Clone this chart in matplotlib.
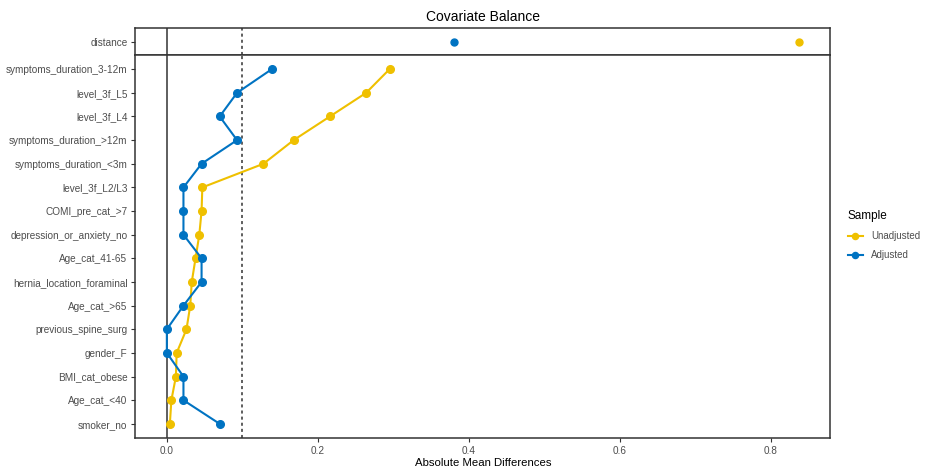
import matplotlib.pyplot as plt
import numpy as np

plt.rcParams["font.family"] = ["Liberation Sans", "DejaVu Sans"]

# covariates, top to bottom
covariates = [
    "symptoms_duration_3-12m",
    "level_3f_L5",
    "level_3f_L4",
    "symptoms_duration_>12m",
    "symptoms_duration_<3m",
    "level_3f_L2/L3",
    "COMI_pre_cat_>7",
    "depression_or_anxiety_no",
    "Age_cat_41-65",
    "hernia_location_foraminal",
    "Age_cat_>65",
    "previous_spine_surg",
    "gender_F",
    "BMI_cat_obese",
    "Age_cat_<40",
    "smoker_no",
]
unadjusted = [0.295, 0.264, 0.216, 0.168, 0.128, 0.047, 0.046, 0.043,
              0.038, 0.033, 0.031, 0.026, 0.013, 0.012, 0.006, 0.004]
adjusted = [0.139, 0.093, 0.070, 0.093, 0.046, 0.022, 0.022, 0.022,
            0.046, 0.046, 0.022, 0.0, 0.0, 0.022, 0.022, 0.070]

distance_unadj = 0.837
distance_adj = 0.381

threshold = 0.1
col_unadj = "#EFC000"
col_adj = "#0073C2"
border = "#333333"
txt = "#4D4D4D"

fig = plt.figure(figsize=(9.32, 4.70), dpi=100)
fig.set_facecolor("w")

left, right = 0.145, 0.891
bottom, top = 0.068, 0.940
mid = 0.883
ax_top = fig.add_axes([left, mid, right - left, top - mid])
ax = fig.add_axes([left, bottom, right - left, mid - bottom], sharex=ax_top)

n = len(covariates)
ypos = np.arange(n)[::-1] + 1

for a in (ax_top, ax):
    a.axvline(0, color=border, lw=1.1, zorder=1)
    a.axvline(threshold, color=border, lw=1.1, ls=(0, (2, 2)), zorder=1)
    for s in a.spines.values():
        s.set_color(border)
        s.set_linewidth(1.1)
    a.tick_params(axis="both", colors=border, length=3, width=0.8,
                  labelsize=7.2, labelcolor=txt, pad=2.5)

# distance panel
ax_top.plot([distance_unadj], [1], "o", color=col_unadj, ms=5, zorder=3)
ax_top.plot([distance_adj], [1], "o", color=col_adj, ms=5, zorder=3)
ax_top.set_ylim(0.4, 1.6)
ax_top.set_yticks([1])
ax_top.set_yticklabels(["distance"])
ax_top.tick_params(axis="x", bottom=False, labelbottom=False)

# covariate panel
ax.plot(unadjusted, ypos, "-o", color=col_unadj, lw=1.5, ms=5.5,
        label="Unadjusted", zorder=3)
ax.plot(adjusted, ypos, "-o", color=col_adj, lw=1.5, ms=5.5,
        label="Adjusted", zorder=3)
ax.set_ylim(0.4, n + 0.6)
ax.set_yticks(ypos)
ax.set_yticklabels(covariates)
ax.set_xlim(-0.042, 0.879)
ax.set_xticks([0.0, 0.2, 0.4, 0.6, 0.8])
ax.set_xticklabels(["0.0", "0.2", "0.4", "0.6", "0.8"])
ax.set_xlabel("Absolute Mean Differences", fontsize=8.2, color="black", labelpad=1.5)

ax_top.set_title("Covariate Balance", fontsize=10, pad=5)

leg = ax.legend(loc="center left", bbox_to_anchor=(1.012, 0.53), frameon=False,
                title="Sample", fontsize=7, title_fontsize=8.5,
                handlelength=1.6, markerscale=0.8, alignment="left",
                labelspacing=0.95)
for t in leg.get_texts():
    t.set_color(txt)

plt.savefig("out.png", dpi=100)
